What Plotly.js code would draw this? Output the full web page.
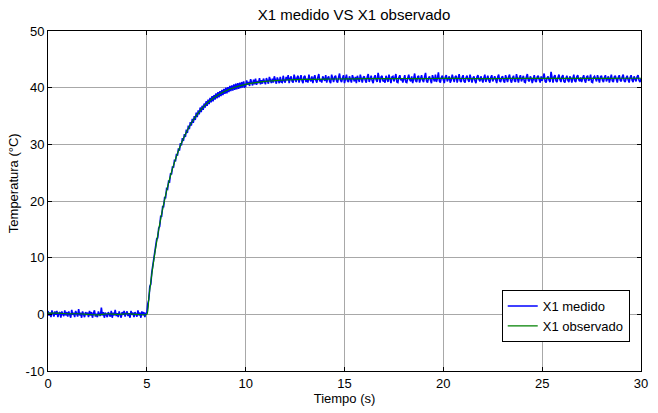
<!DOCTYPE html>
<html>
<head>
<meta charset="utf-8">
<script src="https://cdn.plot.ly/plotly-3.0.1.min.js"></script>
<style>html,body{margin:0;padding:0;background:#fff;}#chart{width:658px;height:413px;}</style>
</head>
<body>
<div id="chart"></div>
<script>
// Measured signal, sampled every 0.05 s from t = 0 s (one row = 1 s)
const T0 = 0;
const DT = 0.05;
const x1Medido = [
  0.6,-0.2,0.3,-0.5,0.7,0.1,-0.4,0.5,-0.1,0.6,-0.5,0.2,0.4,-0.6,0.5,0.0,-0.3,0.7,-0.2,0.4,
  -0.4,0.5,0.1,-0.6,0.8,-0.1,0.3,-0.5,0.6,0.0,-0.4,0.9,-0.2,0.3,-0.6,0.5,0.1,-0.5,0.4,-0.1,
  0.3,-0.5,0.6,-0.2,0.4,-0.6,0.2,0.7,-0.4,0.1,-0.5,0.5,0.0,-0.3,1.2,-0.2,0.4,-0.6,0.3,-0.1,
  -0.5,0.4,0.1,-0.4,0.6,-0.6,0.3,-0.2,0.8,-0.3,0.2,-0.5,0.5,0.0,-0.6,0.4,-0.1,0.6,-0.4,0.2,
  0.5,-0.3,0.2,-0.6,0.6,-0.1,0.3,-0.5,0.4,0.0,-0.4,0.7,-0.2,0.3,-0.6,0.5,-0.1,0.4,-0.5,0.2,
  0.3,1.9,2.6,4.9,5.3,7.4,8.6,9.1,11.1,11.4,13.3,13.5,15.2,15.5,17.3,17.3,19.0,19.0,20.6,20.6,
  22.2,22.1,23.5,23.4,24.9,24.7,26.1,25.9,27.3,27.0,28.3,28.0,29.3,28.9,30.2,29.8,31.1,30.6,31.8,31.3,
  32.6,32.0,33.3,32.7,33.9,33.3,34.5,33.8,35.0,34.3,35.6,34.8,36.0,35.3,36.5,35.7,36.8,36.1,37.2,36.5,
  37.6,36.8,37.9,37.1,38.2,37.4,38.5,37.6,38.7,37.9,39.0,38.1,39.2,38.3,39.4,38.5,39.6,38.7,39.8,38.9,
  40.0,39.0,40.1,39.2,40.3,39.4,40.4,39.5,40.6,39.6,40.7,39.7,40.8,39.8,40.9,39.9,41.0,40.0,41.1,40.1,
  40.2,41.3,40.5,41.0,40.3,41.5,40.7,40.4,41.4,40.6,41.6,40.5,41.2,40.8,41.7,40.6,41.3,40.7,41.6,40.9,
  40.6,41.7,41.0,40.7,41.9,41.2,40.8,41.6,40.9,42.0,41.1,40.7,41.8,41.3,40.8,41.9,41.0,40.9,42.1,41.2,
  40.9,41.9,41.3,42.2,40.8,41.6,42.0,41.1,40.9,42.3,41.4,41.0,41.8,42.1,40.9,41.5,42.2,41.2,40.8,41.9,
  42.1,41.0,41.6,40.9,42.3,41.4,41.1,42.0,40.8,41.7,42.2,41.3,40.9,41.8,42.4,41.1,41.5,40.9,42.0,41.6,
  41.2,42.2,40.9,41.7,42.0,41.1,40.8,42.3,41.5,41.0,41.9,42.1,41.2,40.9,41.8,42.5,41.3,41.0,41.7,42.2,
  40.8,41.6,42.3,41.2,41.0,42.0,41.4,40.9,42.2,41.7,41.1,41.9,40.8,42.1,41.5,41.0,42.3,41.3,40.9,41.8,
  42.0,41.3,40.9,41.9,42.4,41.0,41.6,42.1,41.2,40.8,41.8,42.2,41.4,41.0,42.6,41.5,40.9,41.9,42.1,41.1,
  41.3,40.9,42.1,41.6,41.0,42.3,41.2,40.8,41.9,42.0,41.1,41.7,42.4,41.0,40.9,41.8,42.2,41.3,41.6,40.9,
  41.8,42.2,41.0,40.9,41.7,42.3,41.4,41.1,42.0,40.8,41.6,42.5,41.2,41.0,41.9,42.1,40.9,41.5,42.2,41.3,
  41.0,41.9,42.6,41.2,40.9,41.7,42.0,41.3,40.8,42.2,41.5,41.1,42.3,41.0,41.6,42.7,41.2,40.9,41.8,42.1,
  41.4,40.8,41.9,42.2,41.1,41.6,42.0,40.9,41.3,42.3,41.7,41.0,41.9,42.1,40.9,41.5,42.4,41.2,41.0,41.8,
  42.2,41.1,40.9,41.8,42.1,41.4,41.0,42.3,41.6,40.9,41.7,42.0,41.2,40.8,41.9,42.2,41.5,41.1,42.0,41.3,
  40.9,41.7,42.3,41.0,41.5,42.1,41.3,40.9,41.8,42.2,41.1,41.6,42.0,41.4,40.8,41.9,42.3,41.2,41.0,41.8,
  42.0,41.2,40.9,42.2,41.6,41.0,41.9,42.3,41.3,40.9,41.7,42.1,41.2,41.0,42.4,41.5,40.9,41.8,42.2,41.1,
  41.5,42.1,41.0,40.9,41.9,42.4,41.3,41.1,42.0,41.6,40.8,41.8,42.2,41.2,41.0,41.9,42.1,41.4,40.9,42.0,
  41.2,41.8,42.5,41.1,40.9,41.7,42.0,41.3,41.0,42.8,41.5,40.9,41.9,42.2,41.2,41.0,41.8,42.3,41.4,41.0,
  41.9,42.2,41.1,40.9,41.6,42.1,41.3,41.0,42.0,41.7,40.9,41.8,42.3,41.2,41.0,41.9,42.2,41.4,41.1,41.8,
  41.0,41.7,42.2,41.3,40.9,41.9,42.1,41.2,41.5,42.3,41.0,40.9,41.8,42.0,41.4,41.1,42.2,41.6,40.9,41.9,
  42.1,41.3,41.0,41.8,42.2,41.1,41.6,42.0,40.9,41.4,42.3,41.2,41.0,41.9,42.1,41.5,40.9,41.8,42.2,41.3,
  41.1,41.9,42.3,41.2,41.0,41.7,42.1,41.4,40.9,41.8,42.2,41.3,41.0,42.0,41.6,41.1,41.9,42.2,41.3,41.0,
  41.6
];

// Observer estimate
const tObs = [0,0.5,1,1.5,2,2.5,3,3.5,4,4.5,5,
  5.1,5.2,5.3,5.4,5.5,5.6,5.7,5.8,5.9,6.0,
  6.2,6.4,6.6,6.8,7.0,7.25,7.5,7.75,8.0,8.25,8.5,8.75,9.0,9.5,10,
  10.5,11,11.5,12,13,14,15,16,17,18,19,20,21,22,23,24,25,26,27,28,29,30];
const x1Observado = [0.2,0.2,0.1,0.1,0.0,-0.1,0.1,0.0,0.1,0.0,0.0,
  2.97,5.73,8.29,10.67,12.88,14.93,16.83,18.60,20.24,21.77,
  24.50,26.85,28.88,30.63,32.14,33.76,35.07,36.16,37.09,37.86,38.49,39.02,39.45,40.12,40.58,
  40.90,41.10,41.25,41.35,41.45,41.50,41.55,41.58,41.60,41.62,41.60,41.63,41.62,41.60,41.62,41.63,41.65,41.64,41.63,41.65,41.66,41.66];

const legendLabels = ['X1 medido', 'X1 observado'];
const xTicks = [0,5,10,15,20,25,30];
const yTicks = [-10,0,10,20,30,40,50];
const FONT = 'Liberation Sans, Arial, sans-serif';

const traces = [
  {x0: T0, dx: DT, y: x1Medido, type: 'scatter', mode: 'lines', name: legendLabels[0],
   line: {color: '#0000ff', width: 1.6}},
  {x: tObs, y: x1Observado, type: 'scatter', mode: 'lines', name: legendLabels[1],
   line: {color: '#008000', width: 1.2, shape: 'spline', smoothing: 0.6}}
];

const axisCommon = {
  showline: true, linecolor: '#000', linewidth: 1, mirror: 'ticks',
  ticks: 'inside', ticklen: 4, tickcolor: '#000',
  showgrid: true, gridcolor: '#a8a8a8', gridwidth: 1,
  zeroline: false, tickfont: {family: FONT, size: 13, color: '#000'}
};

const layout = {
  width: 658, height: 413,
  margin: {l: 48, r: 17, t: 31, b: 42},
  paper_bgcolor: '#fff', plot_bgcolor: '#fff',
  font: {family: FONT, size: 13, color: '#000'},
  title: {text: 'X1 medido VS X1 observado', x: 0.516, xref: 'paper', y: 0.965, yanchor: 'middle',
          font: {family: FONT, size: 15, color: '#000'}},
  xaxis: Object.assign({}, axisCommon, {range: [0, 30], tickvals: xTicks, ticktext: xTicks.map(String),
    title: {text: 'Tiempo (s)', standoff: 0, font: {family: FONT, size: 13}}}),
  yaxis: Object.assign({}, axisCommon, {range: [-10, 50], tickvals: yTicks, ticktext: yTicks.map(String)}),
  annotations: [{text: 'Temperatura (°C)', textangle: -90, xref: 'paper', yref: 'paper',
    x: -0.057, y: 0.553, xanchor: 'center', yanchor: 'middle', showarrow: false,
    font: {family: FONT, size: 13, color: '#000'}}],
  showlegend: true,
  legend: {x: 0.981, xanchor: 'right', y: 0.238, yanchor: 'top',
    bgcolor: '#fff', bordercolor: '#000', borderwidth: 1,
    font: {family: FONT, size: 13, color: '#000'}, itemwidth: 30}
};

Plotly.newPlot('chart', traces, layout, {displayModeBar: false, staticPlot: true});
</script>
</body>
</html>
